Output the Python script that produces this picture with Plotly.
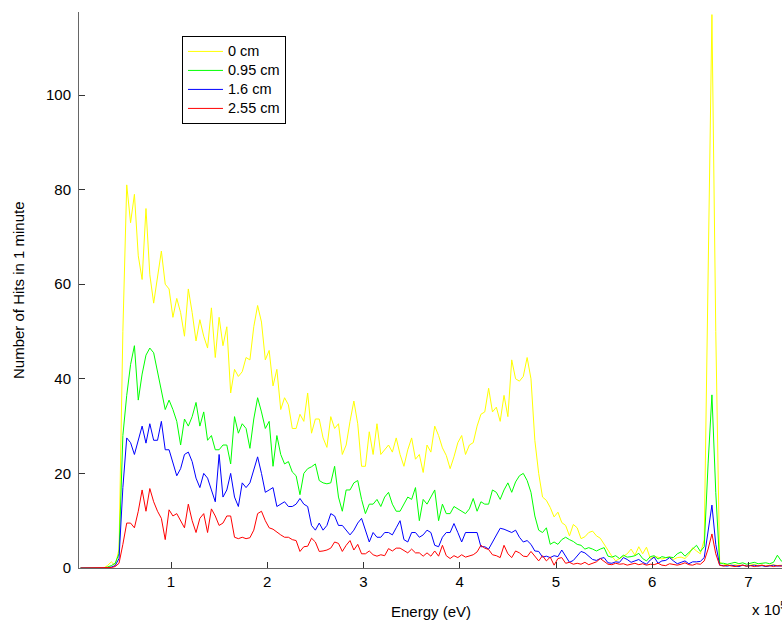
import plotly.graph_objects as go

# Channel energies (keV)
energy_keV = [
    6, 10, 14, 18, 22, 26, 30, 34, 38, 42,
    46, 50, 54, 58, 62, 66, 70, 74, 78, 82,
    86, 90, 94, 98, 102, 106, 110, 114, 118, 122,
    126, 130, 134, 138, 142, 146, 150, 154, 158, 162,
    166, 170, 174, 178, 182, 186, 190, 194, 198, 202,
    206, 210, 214, 218, 222, 226, 230, 234, 238, 242,
    246, 250, 254, 258, 262, 266, 270, 274, 278, 282,
    286, 290, 294, 298, 302, 306, 310, 314, 318, 322,
    326, 330, 334, 338, 342, 346, 350, 354, 358, 362,
    366, 370, 374, 378, 382, 386, 390, 394, 398, 402,
    406, 410, 414, 418, 422, 426, 430, 434, 438, 442,
    446, 450, 454, 458, 462, 466, 470, 474, 478, 482,
    486, 490, 494, 498, 502, 506, 510, 514, 518, 522,
    526, 530, 534, 538, 542, 546, 550, 554, 558, 562,
    566, 570, 574, 578, 582, 586, 590, 594, 598, 602,
    606, 610, 614, 618, 622, 626, 630, 634, 638, 642,
    646, 650, 654, 658, 662, 666, 670, 674, 678, 682,
    686, 690, 694, 698, 702, 706, 710, 714, 718, 722,
    726, 730, 734, 738,
]

hits_0cm = [
    0, 0, 0, 0, 0, 0, 0, 0.5, 1.3, 0.5,
    4, 50, 81, 73, 79, 66, 61, 76, 62, 56,
    62, 67, 60, 59, 53, 57, 54, 49, 59, 54,
    48, 52.5, 49, 46.5, 55, 44.5, 53, 47, 51, 37,
    42, 40.5, 41.5, 44.5, 44, 51, 55.5, 52, 44, 46,
    38.5, 42, 33.5, 36, 34.5, 29.5, 29.5, 32.5, 31, 37,
    28.5, 31.5, 31.5, 27.5, 25.5, 32, 29.5, 30.5, 24, 26,
    31, 35.3, 30.5, 21.5, 21.5, 28.8, 24, 30.5, 24, 25,
    26, 24.5, 27.5, 24, 21.5, 25, 27.5, 23, 24, 20.2,
    26, 24.5, 30, 28, 25.4, 23.8, 21, 23.5, 26.5, 28,
    24, 26, 26.5, 30, 32.5, 33, 38, 33, 34, 31,
    36.5, 32, 44, 40, 39.5, 40.5, 44.5, 40, 27, 20,
    15, 14.3, 12.8, 10.8, 11.8, 9.6, 9, 6.8, 9.2, 8.5,
    6.2, 6.6, 7.5, 7.8, 6.8, 6.3, 5, 3.6, 2.5, 1.5,
    2, 2.5, 3, 4, 2.7, 4.5, 3, 4.4, 2, 2.4,
    2.3, 1.9, 2.2, 2.4, 1.8, 2.2, 2.3, 2, 2.8, 4.3,
    3.6, 3, 6, 60, 117, 50, 1.2, 0.8, 0.6, 0.5,
    0.7, 0.5, 0.6, 0.4, 0.6, 0.8, 0.5, 0.6, 0.4, 0.5,
    0.7, 0.5, 0.6, 0.5,
]

hits_095cm = [
    0, 0, 0, 0, 0, 0, 0, 0.2, 0.5, 1,
    3, 28, 36.5, 43, 47, 35.5, 41, 45, 46.5, 45.5,
    41.5, 38, 33.5, 35.5, 33.5, 31, 26, 31.5, 30, 32,
    35, 30, 33, 27, 28, 25, 25, 26, 26, 22,
    32, 28.5, 30.5, 29.5, 25.3, 31.5, 36, 33, 29.5, 31,
    21.5, 28, 24, 22, 22.5, 20.3, 19.5, 15.5, 20, 21,
    21.4, 22, 18.5, 18, 17.8, 18, 21.5, 15, 12, 16.5,
    16.5, 18, 18.5, 14.5, 11.5, 13.5, 13.5, 14.5, 13, 15,
    16, 13.5, 12, 12, 13.5, 15, 14.5, 17, 10, 14.5,
    13.5, 15, 16.5, 10, 13.5, 11.5, 11.5, 13, 12.5, 12,
    11.5, 12.5, 14.7, 12, 14, 13.5, 13.5, 16.5, 16, 14.5,
    16.5, 18, 16, 18.2, 19.5, 20, 18.5, 16, 11, 8,
    7.5, 8.5, 5, 5.5, 5, 6, 6.5, 6, 5.6, 5,
    4.8, 4, 4.3, 4, 3.6, 4, 4.3, 2.5, 2.3, 2.6,
    2, 2.7, 2.3, 2.4, 2.6, 3.1, 2, 1.5, 2.4, 2.6,
    1.9, 2.4, 2.2, 2.3, 2.2, 3, 3.4, 2.5, 3.2, 4,
    4.8, 3.5, 4.5, 22, 36.6, 16, 1, 1, 0.8, 1,
    1.2, 0.9, 1.1, 0.8, 1, 1.2, 0.9, 1, 1.1, 0.9,
    1.2, 2.7, 1.5, 1,
]

hits_16cm = [
    0, 0, 0, 0, 0, 0, 0, 0, 0.2, 0.5,
    2, 17, 27.5, 26.5, 24, 27, 30, 26.4, 30.5, 27,
    27, 31, 25, 25, 22, 19.5, 21, 24, 24.5, 22.5,
    19, 17, 20, 19, 16.5, 14, 24, 15, 16.5, 20,
    15, 13, 18, 17, 18, 21, 23.5, 20, 16, 16.5,
    17, 13, 13.5, 14, 13, 13, 13.5, 14.7, 13.5, 13,
    9, 8, 9.5, 8, 9, 11.5, 11, 9, 9, 8,
    7, 8, 9.5, 10.5, 8, 5.5, 7.5, 6.5, 6.5, 7.5,
    7.5, 7, 8.5, 10, 6, 5.5, 7.5, 7.5, 6.5, 7,
    8, 7.5, 4.8, 4.5, 6.5, 7.5, 7.5, 9.4, 7.5, 5.5,
    7.5, 7.5, 7.5, 7.5, 4.5, 4.5, 4, 5.5, 7, 8.4,
    8.2, 7.8, 7.5, 8, 6.5, 5.5, 5.8, 5, 3.6, 3.5,
    2.3, 2.5, 2.2, 2.6, 2.4, 3.8, 2.5, 1.2, 1.6, 2.5,
    3.5, 3.2, 2.4, 1.8, 1.6, 2, 2.2, 1.1, 1, 1.3,
    1.2, 2.2, 1.8, 1.2, 1.5, 1.8, 1.2, 0.8, 1.7, 2.3,
    1, 1.5, 1.6, 2.2, 1.5, 0.9, 1.2, 1.5, 0.9, 1.3,
    1.3, 1.4, 2.2, 7.5, 13.3, 5, 0.6, 0.5, 0.4, 0.6,
    0.5, 0.3, 0.6, 0.4, 0.5, 0.6, 0.4, 0.5, 0.3, 0.5,
    0.6, 0.4, 0.5, 0.4,
]

hits_255cm = [
    0, 0, 0, 0, 0, 0, 0, 0, 0.1, 0.3,
    1, 5, 9.5, 9.5, 8.5, 12, 16.5, 12, 16.8, 14,
    12, 10.5, 6, 12.3, 11, 11.5, 10, 8.5, 13.5, 10,
    7.5, 10.5, 11.5, 7.5, 12.5, 11, 9, 9.5, 11, 11,
    6.5, 6.2, 6.5, 6.2, 6.4, 8, 11.5, 12, 10, 8.5,
    8.2, 7.5, 7, 6.5, 6.5, 6, 5.8, 3.5, 4.5, 4.6,
    6.3, 5.5, 3.5, 3.6, 3.8, 4.2, 5.5, 5.2, 3.5, 4.8,
    5.8, 3.8, 5, 3, 3, 3.6, 2.8, 2.5, 2.8, 2.6,
    4.1, 3.6, 4.2, 4.2, 3.7, 3.2, 4, 3.2, 3.2, 2.5,
    3.2, 2.5, 3.6, 2.5, 4.8, 2.6, 2, 2.6, 2.2, 2.8,
    2.3, 2.5, 2.8, 3.4, 4.8, 4.2, 3.9, 2.8, 2.6, 2.2,
    4.8, 3, 2.2, 3.6, 3.2, 2.5, 2.4, 3.5, 2.6, 1.5,
    2.6, 1.5, 2.3, 0.6, 2, 2.2, 1, 1.2, 0.8, 1,
    0.8, 1.2, 0.7, 1, 1.3, 2, 1.3, 0.8, 0.7, 1,
    0.8, 0.9, 0.6, 0.8, 1, 0.7, 0.9, 0.6, 0.8, 0.7,
    1, 0.6, 0.5, 0.9, 0.7, 0.6, 0.8, 1.1, 0.7, 0.6,
    0.9, 0.8, 1.5, 4, 7.2, 3, 0.6, 0.4, 0.6, 0.5,
    0.3, 0.5, 0.6, 0.4, 0.5, 0.3, 0.5, 0.6, 0.4, 0.5,
    0.3, 0.5, 0.4, 0.3,
]

series_names = ["0 cm", "0.95 cm", "1.6 cm", "2.55 cm"]
series_values = [hits_0cm, hits_095cm, hits_16cm, hits_255cm]
series_colors = ["#FFFF00", "#00FF00", "#0000FF", "#FF0000"]

x_tick_vals = [100000, 200000, 300000, 400000, 500000, 600000, 700000]
x_tick_text = ["1", "2", "3", "4", "5", "6", "7"]
y_tick_vals = [0, 20, 40, 60, 80, 100]

energy_eV = [e * 1000 for e in energy_keV]

FONT = "Liberation Sans, Arial, Helvetica, sans-serif"

fig = go.Figure()
for name, vals, col in zip(series_names, series_values, series_colors):
    n = min(len(vals), len(energy_eV))
    fig.add_trace(go.Scatter(
        x=energy_eV[:n], y=vals[:n], mode="lines",
        name='<span style="font-size:14.5px">' + name + "</span>",
        line=dict(color=col, width=1),
    ))

fig.update_layout(
    width=782, height=620,
    margin=dict(l=79, r=0, t=12, b=52),
    plot_bgcolor="white", paper_bgcolor="white",
    font=dict(family=FONT, size=15, color="black"),
    showlegend=True,
    legend=dict(
        x=0.1465, y=0.957, xanchor="left", yanchor="top",
        bordercolor="black", borderwidth=1, bgcolor="white",
        font=dict(family=FONT, size=11, color="black"),
        tracegroupgap=0, itemwidth=35,
    ),
    xaxis=dict(
        range=[4420, 734800],
        tickmode="array", tickvals=x_tick_vals, ticktext=x_tick_text,
        ticks="inside", ticklen=6, tickcolor="#333333", tickwidth=1,
        showline=True, linecolor="#666666", linewidth=1,
        showgrid=False, zeroline=False,
        tickfont=dict(family=FONT, size=15, color="black"),
    ),
    yaxis=dict(
        range=[0, 117.55],
        tickmode="array", tickvals=y_tick_vals,
        ticks="inside", ticklen=6, tickcolor="#333333", tickwidth=1,
        showline=True, linecolor="#666666", linewidth=1,
        showgrid=False, zeroline=False,
        tickfont=dict(family=FONT, size=15, color="black"),
        ticklabelstandoff=4,
    ),
    annotations=[
        dict(text="Number of Hits in 1 minute", textangle=-90,
             xref="paper", yref="paper", x=0, y=0.5, xshift=-61,
             xanchor="center", yanchor="middle", showarrow=False,
             font=dict(family=FONT, size=15, color="black")),
        dict(text="Energy (eV)", xref="paper", yref="paper", x=0.5, y=0,
             yshift=-43, xanchor="center", yanchor="middle", showarrow=False,
             font=dict(family=FONT, size=15, color="black")),
        dict(text="x 10<sup>5</sup>", xref="paper", yref="paper",
             x=(750 - 79) / 703, y=0, yshift=-40, xanchor="left",
             yanchor="middle", showarrow=False,
             font=dict(family=FONT, size=15, color="black")),
    ],
)

fig.write_html("out.html")
